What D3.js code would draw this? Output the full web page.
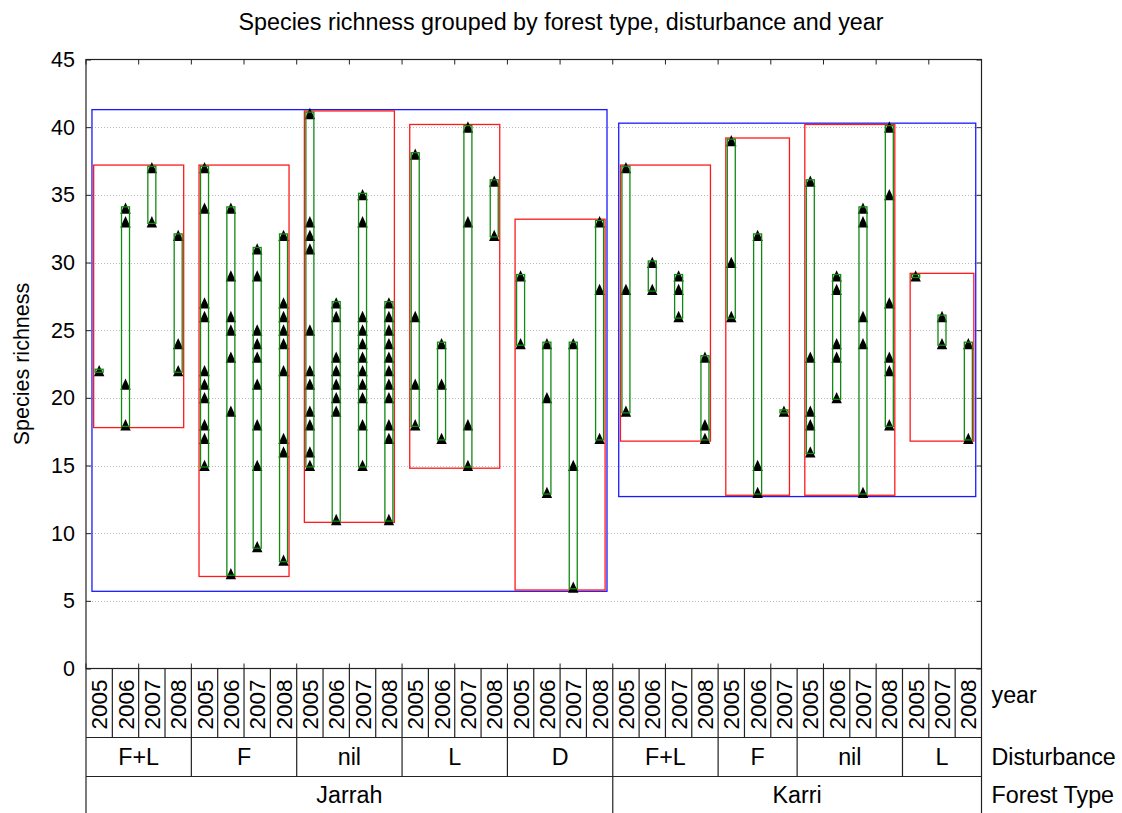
<!DOCTYPE html>
<html>
<head>
<meta charset="utf-8">
<script src="https://cdn.jsdelivr.net/npm/d3@7"></script>
<style>
  html, body { margin: 0; padding: 0; background: #fff; }
  svg { display: block; font-family: "Liberation Sans", Arial, sans-serif; }
</style>
</head>
<body>
<svg id="chart" width="1122" height="813"></svg>
<script>
// Species richness per plot, grouped by forest type > disturbance > year
const forestTypes = ["Jarrah", "Karri"];
const groupForest = ["Jarrah", "Jarrah", "Jarrah", "Jarrah", "Jarrah", "Karri", "Karri", "Karri", "Karri"];
const groupDisturbance = ["F+L", "F", "nil", "L", "D", "F+L", "F", "nil", "L"];
const groupYears = [
  [2005, 2006, 2007, 2008],
  [2005, 2006, 2007, 2008],
  [2005, 2006, 2007, 2008],
  [2005, 2006, 2007, 2008],
  [2005, 2006, 2007, 2008],
  [2005, 2006, 2007, 2008],
  [2005, 2006, 2007],
  [2005, 2006, 2007, 2008],
  [2005, 2007, 2008]
];
// values per group, one list per year
const jarrahRichness = [
  [[22], [34, 33, 21, 18], [37, 33], [32, 24, 22]],
  [[37, 34, 27, 26, 22, 21, 20, 18, 17, 15], [34, 29, 26, 25, 23, 19, 7],
   [31, 29, 25, 24, 23, 21, 18, 15, 9], [32, 27, 26, 25, 24, 22, 17, 16, 8]],
  [[41, 33, 32, 31, 25, 22, 21, 19, 18, 16, 15], [27, 26, 23, 22, 21, 20, 19, 11],
   [35, 33, 26, 25, 24, 23, 22, 21, 20, 18, 15], [27, 26, 25, 24, 23, 22, 21, 20, 18, 17, 11]],
  [[38, 26, 21, 18], [24, 21, 17], [40, 33, 18, 15], [36, 32]],
  [[29, 24], [24, 20, 13], [24, 15, 6], [33, 28, 17]]
];
const karriRichness = [
  [[37, 28, 19], [30, 28], [29, 28, 26], [23, 18, 17]],
  [[39, 30, 26], [32, 15, 13], [19]],
  [[36, 23, 19, 18, 16], [29, 28, 24, 23, 20], [34, 33, 26, 24, 13], [40, 35, 27, 23, 22, 18]],
  [[29], [26, 24], [24, 17]]
];
const yTicks = [0, 5, 10, 15, 20, 25, 30, 35, 40, 45];
const rowTitles = ["year", "Disturbance", "Forest Type"];
const chartTitle = "Species richness grouped by forest type, disturbance and year";
const yTitle = "Species richness";

// ---- flatten into columns ----
const groupValues = jarrahRichness.concat(karriRichness);
const columns = [];
groupYears.forEach((ys, g) => {
  ys.forEach((yr, k) => {
    columns.push({ idx: columns.length, group: g, forest: groupForest[g],
      disturbance: groupDisturbance[g], year: yr, values: groupValues[g][k] });
  });
});

// ---- layout ----
const W = 1122, H = 813;
const plot = { left: 86, right: 981.5, top: 59.5, bottom: 668.5 };
const rowEdges = [668.5, 737.5, 776.5, 813];
const fs = { title: 23.3, tick: 21.5, axis: 21.5, year: 22.5, cat: 23.3 };

const svg = d3.select("#chart");
svg.append("rect").attr("width", W).attr("height", H).attr("fill", "#fff");

const x = d3.scaleBand().domain(columns.map(c => c.idx)).range([plot.left, plot.right]).padding(0);
const y = d3.scaleLinear().domain([0, 45]).range([plot.bottom, plot.top]);
const cx = i => x(i) + x.bandwidth() / 2;

// grid
svg.append("g").selectAll("line").data(yTicks.filter(t => t > 0 && t < 45)).join("line")
  .attr("x1", plot.left).attr("x2", plot.right)
  .attr("y1", d => Math.round(y(d)) + 0.5).attr("y2", d => Math.round(y(d)) + 0.5)
  .attr("stroke", "#b8b8b8").attr("stroke-width", 1).attr("stroke-dasharray", "1,2");

// forest type envelopes (blue)
const forestExtent = forestTypes.map(f => {
  const cols = columns.filter(c => c.forest === f);
  const vals = cols.flatMap(c => c.values);
  return { first: cols[0].idx, last: cols[cols.length - 1].idx, min: d3.min(vals), max: d3.max(vals) };
});
svg.append("g").selectAll("rect").data(forestExtent).join("rect")
  .attr("x", d => cx(d.first) - 7.2).attr("width", d => cx(d.last) - cx(d.first) + 14.6)
  .attr("y", d => y(d.max) - 4).attr("height", d => y(d.min) - y(d.max) + 8)
  .attr("fill", "none").attr("stroke", "#1a1aff").attr("stroke-width", 1.3);

// disturbance envelopes (red)
const groupExtent = groupYears.map((ys, g) => {
  const cols = columns.filter(c => c.group === g);
  const vals = cols.flatMap(c => c.values);
  return { first: cols[0].idx, last: cols[cols.length - 1].idx, min: d3.min(vals), max: d3.max(vals) };
});
svg.append("g").selectAll("rect").data(groupExtent).join("rect")
  .attr("x", d => cx(d.first) - 5.5).attr("width", d => cx(d.last) - cx(d.first) + 11)
  .attr("y", d => y(d.max) - 2.7).attr("height", d => y(d.min) - y(d.max) + 5.4)
  .attr("fill", "none").attr("stroke", "#ff1a1a").attr("stroke-width", 1.3);

// data points (triangles)
const tri = {
  draw(ctx) {
    ctx.moveTo(0, -5.8); ctx.lineTo(5.2, 5.5); ctx.lineTo(-5.2, 5.5); ctx.closePath();
  }
};
const pts = columns.flatMap(c => c.values.map(v => ({ i: c.idx, v })));
svg.append("g").selectAll("path").data(pts).join("path")
  .attr("d", d3.symbol(tri))
  .attr("transform", d => `translate(${cx(d.i)},${y(d.v)})`)
  .attr("fill", "#000");

// per-year range boxes (green)
svg.append("g").selectAll("rect").data(columns).join("rect")
  .attr("x", d => cx(d.idx) - 4).attr("width", 8)
  .attr("y", d => y(d3.max(d.values)) - 1.5)
  .attr("height", d => y(d3.min(d.values)) - y(d3.max(d.values)) + 3)
  .attr("fill", "none").attr("stroke", "#108a10").attr("stroke-width", 1.3);

// frame and axes
const axisColor = "#222";
svg.append("rect").attr("x", plot.left).attr("y", plot.top)
  .attr("width", plot.right - plot.left).attr("height", plot.bottom - plot.top)
  .attr("fill", "none").attr("stroke", axisColor).attr("stroke-width", 1.2);

const yAxisL = d3.axisLeft(y).tickValues(yTicks).tickSizeInner(-5).tickSizeOuter(0).tickPadding(11);
const gL = svg.append("g").attr("transform", `translate(${plot.left},0)`).call(yAxisL);
gL.select(".domain").remove();
gL.selectAll("line").attr("stroke", axisColor);
gL.selectAll("text").attr("font-size", fs.tick).attr("fill", "#000")
  .attr("font-family", "'Liberation Sans', Arial, sans-serif");

const yAxisR = d3.axisRight(y).tickValues(yTicks).tickSizeInner(-5).tickSizeOuter(0).tickFormat("");
const gR = svg.append("g").attr("transform", `translate(${plot.right},0)`).call(yAxisR);
gR.select(".domain").remove();
gR.selectAll("line").attr("stroke", axisColor);

const pairTicks = columns.filter(c => c.idx % 2 === 0).map(c => x(c.idx)).concat([plot.right]);
svg.append("g").selectAll("line").data(pairTicks).join("line")
  .attr("x1", d => d).attr("x2", d => d)
  .attr("y1", plot.top).attr("y2", plot.top + 5).attr("stroke", axisColor);
svg.append("g").selectAll("line").data(pairTicks).join("line")
  .attr("x1", d => d).attr("x2", d => d)
  .attr("y1", plot.bottom).attr("y2", plot.bottom - 5).attr("stroke", axisColor);

// ---- category table below the plot ----
const table = svg.append("g").attr("stroke", axisColor).attr("stroke-width", 1.2);
[rowEdges[1], rowEdges[2]].forEach(yy => {
  table.append("line").attr("x1", plot.left).attr("x2", plot.right).attr("y1", yy).attr("y2", yy);
});
[plot.left, plot.right].forEach(xx => {
  table.append("line").attr("x1", xx).attr("x2", xx).attr("y1", plot.bottom).attr("y2", H);
});
table.selectAll(".yd").data(columns.slice(1)).join("line")
  .attr("x1", d => x(d.idx)).attr("x2", d => x(d.idx))
  .attr("y1", rowEdges[0]).attr("y2", rowEdges[1]);
table.selectAll(".dd").data(groupExtent.slice(1)).join("line")
  .attr("x1", d => x(d.first)).attr("x2", d => x(d.first))
  .attr("y1", rowEdges[1]).attr("y2", rowEdges[2]);
table.selectAll(".fd").data(forestExtent.slice(1)).join("line")
  .attr("x1", d => x(d.first)).attr("x2", d => x(d.first))
  .attr("y1", rowEdges[2]).attr("y2", rowEdges[3]);

const yearMid = (rowEdges[0] + rowEdges[1]) / 2;
svg.append("g").selectAll("text").data(columns).join("text")
  .attr("transform", d => `translate(${cx(d.idx) + fs.year * 0.36},${yearMid + 1.5}) rotate(-90)`)
  .attr("text-anchor", "middle").attr("font-size", fs.year).attr("fill", "#000")
  .text(d => d.year);

const catDy = fs.cat * 0.36;
svg.append("g").selectAll("text").data(groupExtent).join("text")
  .attr("x", d => (x(d.first) + x(d.last) + x.bandwidth()) / 2)
  .attr("y", (rowEdges[1] + rowEdges[2]) / 2 + catDy)
  .attr("text-anchor", "middle").attr("font-size", fs.cat).attr("fill", "#000")
  .text((d, i) => groupDisturbance[i]);

svg.append("g").selectAll("text").data(forestExtent).join("text")
  .attr("x", d => (x(d.first) + x(d.last) + x.bandwidth()) / 2)
  .attr("y", (rowEdges[2] + rowEdges[3]) / 2 + catDy)
  .attr("text-anchor", "middle").attr("font-size", fs.cat).attr("fill", "#000")
  .text((d, i) => forestTypes[i]);

const rowMids = [695, (rowEdges[1] + rowEdges[2]) / 2, (rowEdges[2] + rowEdges[3]) / 2];
svg.append("g").selectAll("text").data(rowTitles).join("text")
  .attr("x", plot.right + 10).attr("y", (d, i) => rowMids[i] + catDy)
  .attr("font-size", fs.cat).attr("fill", "#000").text(d => d);

// titles
svg.append("text").attr("x", W / 2).attr("y", 30).attr("text-anchor", "middle")
  .attr("font-size", fs.title).attr("fill", "#000").text(chartTitle);
svg.append("text").attr("transform", `translate(29,${(plot.top + plot.bottom) / 2}) rotate(-90)`)
  .attr("text-anchor", "middle").attr("font-size", fs.axis).attr("fill", "#000").text(yTitle);
</script>
</body>
</html>
